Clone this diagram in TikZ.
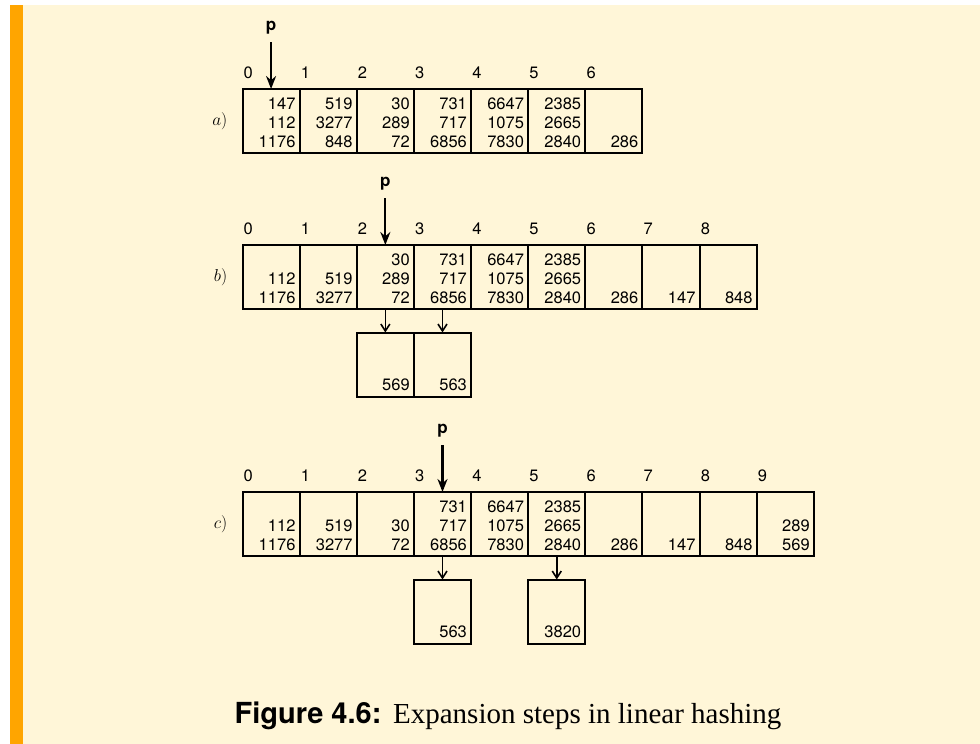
\documentclass[tikz,border=0pt]{standalone}
\usepackage{fontspec}
\newfontfamily\heros{TeX Gyre Heros}
\newfontfamily\capserif{Liberation Serif}
\usepackage{tikz}
\usetikzlibrary{arrows.meta, positioning, calc}
\definecolor{paper}{RGB}{255,246,216}
\definecolor{edgebar}{RGB}{255,165,0}

\tikzset{
  bucket/.style={draw, line width=2pt, minimum width=57.14pt, minimum height=64pt, inner sep=0pt, outer sep=0pt},
  key/.style={anchor=base east, inner sep=0pt, font=\heros\fontsize{16.5}{19}\selectfont},
  slot/.style={anchor=base west, inner sep=0pt, font=\heros\fontsize{16.5}{19}\selectfont},
  pname/.style={inner sep=0pt, font=\heros\bfseries\fontsize{17}{19}\selectfont},
  ptr/.style={-{Stealth[length=13pt,width=10pt]}, line width=2.2pt, shorten <=8pt},
  overflow/.style={-{Straight Barb[length=7pt,width=9pt]}, line width=1.6pt},
  rowlabel/.style={inner sep=0pt, font=\fontsize{16}{18}\selectfont}
}

\begin{document}
\begin{tikzpicture}[x=1pt, y=-1pt]
  \useasboundingbox (0,0) rectangle (980,744);
  \fill[white] (0,0) rectangle (980,744);
  \fill[paper] (23,5) rectangle (980,744);
  \fill[edgebar] (10,5) rectangle (23,744);

  % a)
  \foreach \i/\ka/\kb/\kc in {0/147/112/1176, 1/519/3277/848, 2/30/289/72, 3/731/717/6856,
                              4/6647/1075/7830, 5/2385/2665/2840, 6/{}/{}/286} {
    \node[bucket] (a\i) at ({242.5+57.14*(\i+0.5)}, 121) {};
    \node[key] (a\i-1) at ($(a\i.north east)+(-4,20)$) {\ka};
    \node[key] (a\i-2) at ($(a\i.north east)+(-4,39)$) {\kb};
    \node[key] (a\i-3) at ($(a\i.north east)+(-4,58)$) {\kc};
    \node[slot] (a\i-n) at ($(a\i.north west)+(1,-11)$) {\i};
  }
  \node[rowlabel, left=15pt of a0] (la) {$a)$};
  \node[pname, above=55pt of a0] (pa) {p};
  \draw[ptr] (pa) -- (a0);

  % b)
  \foreach \i/\ka/\kb/\kc in {0/{}/112/1176, 1/{}/519/3277, 2/30/289/72, 3/731/717/6856,
                              4/6647/1075/7830, 5/2385/2665/2840, 6/{}/{}/286, 7/{}/{}/147, 8/{}/{}/848} {
    \node[bucket] (b\i) at ({242.5+57.14*(\i+0.5)}, 277) {};
    \node[key] (b\i-1) at ($(b\i.north east)+(-4,20)$) {\ka};
    \node[key] (b\i-2) at ($(b\i.north east)+(-4,39)$) {\kb};
    \node[key] (b\i-3) at ($(b\i.north east)+(-4,58)$) {\kc};
    \node[slot] (b\i-n) at ($(b\i.north west)+(1,-11)$) {\i};
  }
  \node[rowlabel, left=15pt of b0] (lb) {$b)$};
  \node[pname, above=55pt of b2] (pb) {p};
  \draw[ptr] (pb) -- (b2);
  \node[bucket, below=23.5pt of b2] (b2o) {};
  \node[bucket, below=23.5pt of b3] (b3o) {};
  \node[key] (b2o-3) at ($(b2o.north east)+(-4,58)$) {569};
  \node[key] (b3o-3) at ($(b3o.north east)+(-4,58)$) {563};
  \draw[overflow] (b2) -- (b2o);
  \draw[overflow] (b3) -- (b3o);

  % c)
  \foreach \i/\ka/\kb/\kc in {0/{}/112/1176, 1/{}/519/3277, 2/{}/30/72, 3/731/717/6856,
                              4/6647/1075/7830, 5/2385/2665/2840, 6/{}/{}/286, 7/{}/{}/147,
                              8/{}/{}/848, 9/{}/289/569} {
    \node[bucket] (c\i) at ({242.5+57.14*(\i+0.5)}, 524) {};
    \node[key] (c\i-1) at ($(c\i.north east)+(-4,20)$) {\ka};
    \node[key] (c\i-2) at ($(c\i.north east)+(-4,39)$) {\kb};
    \node[key] (c\i-3) at ($(c\i.north east)+(-4,58)$) {\kc};
    \node[slot] (c\i-n) at ($(c\i.north west)+(1,-11)$) {\i};
  }
  \node[rowlabel, left=15pt of c0] (lc) {$c)$};
  \node[pname, above=55pt of c3] (pc) {p};
  \draw[ptr] (pc) -- (c3);
  \node[bucket, below=23.5pt of c3] (c3o) {};
  \node[bucket, below=23.5pt of c5] (c5o) {};
  \node[key] (c3o-3) at ($(c3o.north east)+(-4,58)$) {563};
  \node[key] (c5o-3) at ($(c5o.north east)+(-4,58)$) {3820};
  \draw[overflow] (c3) -- (c3o);
  \draw[overflow] (c5) -- (c5o);

  \node[anchor=base, inner sep=0pt, font=\fontsize{29}{34}\selectfont] (cap) at (508,723)
    {{\heros\bfseries Figure 4.6:} \capserif Expansion steps in linear hashing};
\end{tikzpicture}
\end{document}
